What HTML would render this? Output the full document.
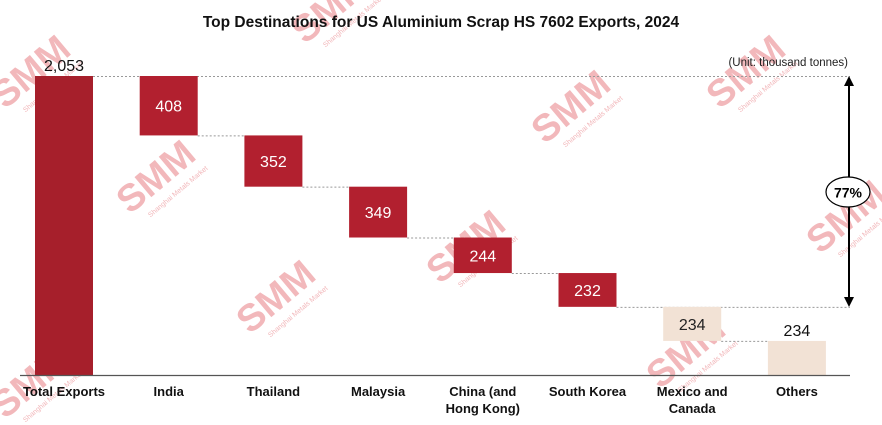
<!DOCTYPE html>
<html><head><meta charset="utf-8"><style>
body{margin:0;background:#fff;}
svg{display:block;font-family:"Liberation Sans",Calibri,sans-serif;}
</style></head><body>
<svg id="c" width="882" height="425">
<g id="wm"></g>
<text x="441" y="27" text-anchor="middle" font-size="15.5" font-weight="bold" fill="#111">Top Destinations for US Aluminium Scrap HS 7602 Exports, 2024</text>
<text x="848" y="66" text-anchor="end" font-size="11.5" fill="#222">(Unit: thousand tonnes)</text>
<g id="bars"></g>
<line x1="20" y1="375.5" x2="850" y2="375.5" stroke="#555" stroke-width="1.2"/>
<g>
<line x1="849" y1="83" x2="849" y2="300" stroke="#000" stroke-width="2"/>
<polygon points="849,76 844,86 854,86" fill="#000"/>
<polygon points="849,307 844,297 854,297" fill="#000"/>
<ellipse cx="848" cy="192" rx="22" ry="15" fill="#fff" stroke="#000" stroke-width="1.2"/>
<text x="848" y="197.5" text-anchor="middle" font-size="14" font-weight="bold" fill="#000">77%</text>
</g>
</svg>
<script>
const categories=["Total Exports","India","Thailand","Malaysia","China (and|Hong Kong)","South Korea","Mexico and|Canada","Others"];
const values=[2053,408,352,349,244,232,234,234];
const labels=["2,053","408","352","349","244","232","234","234"];
const NS="http://www.w3.org/2000/svg";
const svg=document.getElementById('c'),g=document.getElementById('bars'),wm=document.getElementById('wm');
const base=375,top0=76,total=values[0];
const y=v=>base-v*(base-top0)/total;
const xc=i=>64+i*104.7, bw=58;
function mk(t,a,p){const e=document.createElementNS(NS,t);for(const k in a)e.setAttribute(k,a[k]);(p||g).appendChild(e);return e;}
let run=total;
for(let i=0;i<values.length;i++){
  let y0,y1;
  if(i===0){y0=y(total);y1=base;}
  else{y0=y(run);y1=y(run-values[i]);run-=values[i];}
  const fill=i===0?"#a61f2b":(i>=6?"#f2e2d5":"#b2202f");
  const r=mk('rect',{x:xc(i)-bw/2,y:y0,width:bw,height:y1-y0,fill:fill});
  
  
  if(i<values.length-1){
    const x2=i===5?850:xc(i+1)-bw/2;
    const ln=mk('line',{x1:xc(i)+bw/2,y1:y1+0.5,x2:(i===0?850:x2),y2:y1+0.5,stroke:"#999","stroke-dasharray":"2,2","stroke-width":1});
    if(i===0){ln.setAttribute('y1',y0+0.5);ln.setAttribute('y2',y0+0.5);}
    
    
  }
  let ty,col;
  if(i===0||i===7){ty=y0-5;col="#111";}else{ty=(y0+y1)/2+6;col=i>=6?"#222":"#fff";}
  const t=mk('text',{x:xc(i),y:ty,"text-anchor":"middle","font-size":16,fill:col});
  t.textContent=labels[i];
  
  
  const parts=categories[i].split('|');
  parts.forEach((p,k)=>{const c=mk('text',{x:xc(i),y:396+k*17,"text-anchor":"middle","font-size":13,"font-weight":"bold",fill:"#111"});c.textContent=p;
    
    });
}
const wmPos=[[5,110],[130,215],[250,335],[305,45],[440,285],[545,145],[660,390],[720,110],[820,255],[5,420]];
wmPos.forEach(([x,yy])=>{
  const t=mk('text',{x:x,y:yy,"font-size":38,"font-weight":"bold",fill:"#f2b8bb",transform:`rotate(-40 ${x} ${yy})`},wm);
  t.textContent="SMM";
  
  
  const s=mk('text',{x:x+14,y:yy+15,"font-size":7,fill:"#f2b8bb",transform:`rotate(-40 ${x} ${yy})`},wm);
  s.textContent="Shanghai Metals Market";
});
</script>
</body></html>
